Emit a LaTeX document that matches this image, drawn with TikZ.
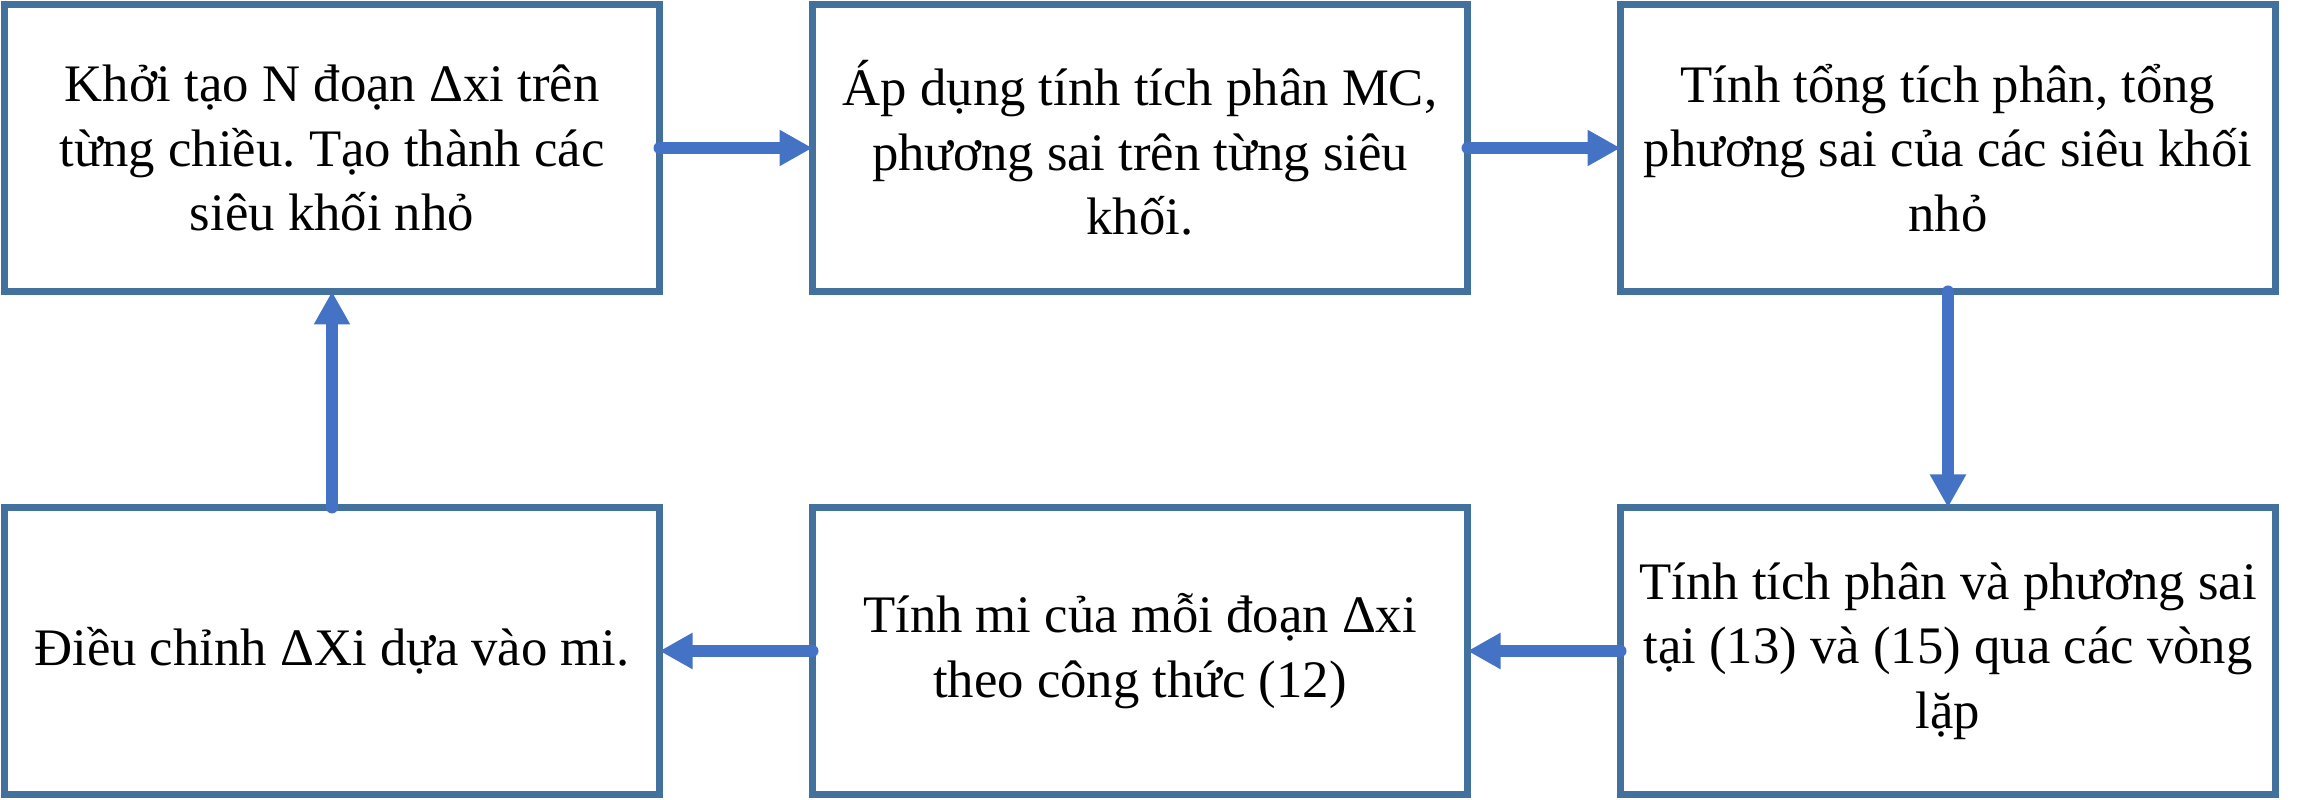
\documentclass[tikz,border=0pt]{standalone}
\usepackage{fontspec}
\setmainfont{Liberation Serif}
\usetikzlibrary{arrows.meta, positioning}
\definecolor{boxblue}{RGB}{65,113,156}
\definecolor{arrblue}{RGB}{68,114,196}
\frenchspacing

\begin{document}
\begin{tikzpicture}[
  BX/.style={draw=boxblue, line width=0.7mm, fill=white, inner sep=0pt, outer sep=0pt,
             minimum width=65.5mm, minimum height=28.7mm, align=center,
             font=\fontsize{15pt}{18.3pt}\selectfont},
  AR/.style={-{Triangle[length=3.3mm, width=3.4mm]}, line width=1.2mm, line cap=round, arrblue},
  node distance=15.3mm
]
  \useasboundingbox (0,0) rectangle (229.9mm,80mm);

  \node[BX] (b1) at (33.2mm,65.2mm)
    {Khởi tạo N đoạn Δxi trên\\từng chiều. Tạo thành các\\siêu khối nhỏ};
  \node[BX,right=of b1] (b2)
    {Áp dụng tính tích phân MC,\\phương sai trên từng siêu\\khối.};
  \node[BX,right=of b2] (b3)
    {Tính tổng tích phân, tổng\\phương sai của các siêu khối\\nhỏ};
  \node[BX,below=21.6mm of b3] (b6)
    {Tính tích phân và phương sai\\tại (13) và (15) qua các vòng\\lặp};
  \node[BX,left=of b6] (b5)
    {Tính mi của mỗi đoạn Δxi\\theo công thức (12)};
  \node[BX,left=of b5] (b4)
    {Điều chỉnh ΔXi dựa vào mi.};

  \foreach \a/\b in {b1/b2,b2/b3,b3/b6,b6/b5,b5/b4,b4/b1}  \draw[AR](\a)--(\b);
\end{tikzpicture}
\end{document}
